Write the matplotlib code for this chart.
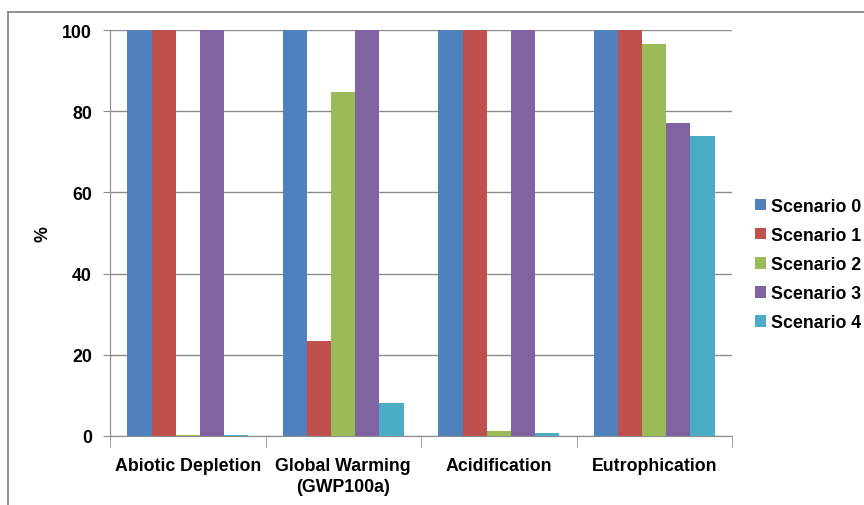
import matplotlib
matplotlib.use("Agg")
import matplotlib.pyplot as plt
import numpy as np
from matplotlib.lines import Line2D

categories = ["Abiotic Depletion", "Global Warming\n(GWP100a)", "Acidification", "Eutrophication"]
series_names = ["Scenario 0", "Scenario 1", "Scenario 2", "Scenario 3", "Scenario 4"]
scenario0 = [100, 100, 100, 100]
scenario1 = [100, 23.5, 100, 100]
scenario2 = [0.3, 84.7, 1.2, 96.6]
scenario3 = [100, 100, 100, 77.2]
scenario4 = [0.3, 8.2, 0.7, 73.8]
yticks = [0, 20, 40, 60, 80, 100]

colors = ["#4F81BD", "#C0504D", "#9BBB59", "#8064A2", "#4BACC6"]
series = [scenario0, scenario1, scenario2, scenario3, scenario4]

plt.rcParams['font.family'] = ['Liberation Sans', 'DejaVu Sans']

fig = plt.figure(figsize=(8.64, 5.06), dpi=100)
ax = fig.add_axes([110/864, 1-437/506, (732-110)/864, (437-31)/506])

x = np.arange(len(categories))
w = 0.155
for i, (vals, c, name) in enumerate(zip(series, colors, series_names)):
    ax.bar(x + (i - 2) * w, vals, width=w, color=c, label=name, zorder=3)

fs = 12.8
ax.set_xlim(-0.5, 3.5)
ax.set_ylim(0, 100)
ax.set_yticks(yticks)
ax.set_yticklabels([str(t) for t in yticks], fontweight='bold', fontsize=fs)
ax.yaxis.grid(True, color="#8C8C8C", linewidth=1, zorder=0)
ax.set_xticks(x)
ax.set_xticklabels(categories, fontweight='bold', fontsize=fs, linespacing=1.3)
ax.set_xticks(np.arange(-0.5, 4, 1), minor=True)
ax.tick_params(axis='x', which='major', length=0, pad=15)
ax.tick_params(axis='x', which='minor', length=8, color="#8C8C8C", direction='out')
ax.tick_params(axis='y', length=5, color="#8C8C8C", direction='out', pad=8)
for s in ['top', 'right']:
    ax.spines[s].set_visible(False)
for s in ['left', 'bottom']:
    ax.spines[s].set_color("#8C8C8C")
ax.set_ylabel("%", fontweight='bold', fontsize=fs)
ax.yaxis.set_label_coords(-0.094, 0.5)

leg = fig.legend(loc='upper left', bbox_to_anchor=(755/864, 1-199/506), frameon=False,
                 prop={'weight': 'bold', 'size': fs}, handlelength=0.6, handleheight=0.6,
                 handletextpad=0.3, labelspacing=0.68, borderaxespad=0, borderpad=0)

fig.add_artist(Line2D([8/864, 8/864], [0, 1-13/506], transform=fig.transFigure, color="#808080", linewidth=1.2))
fig.add_artist(Line2D([8/864, 1], [1-13/506, 1-13/506], transform=fig.transFigure, color="#808080", linewidth=1.2))

fig.savefig("out.png", dpi=100)
